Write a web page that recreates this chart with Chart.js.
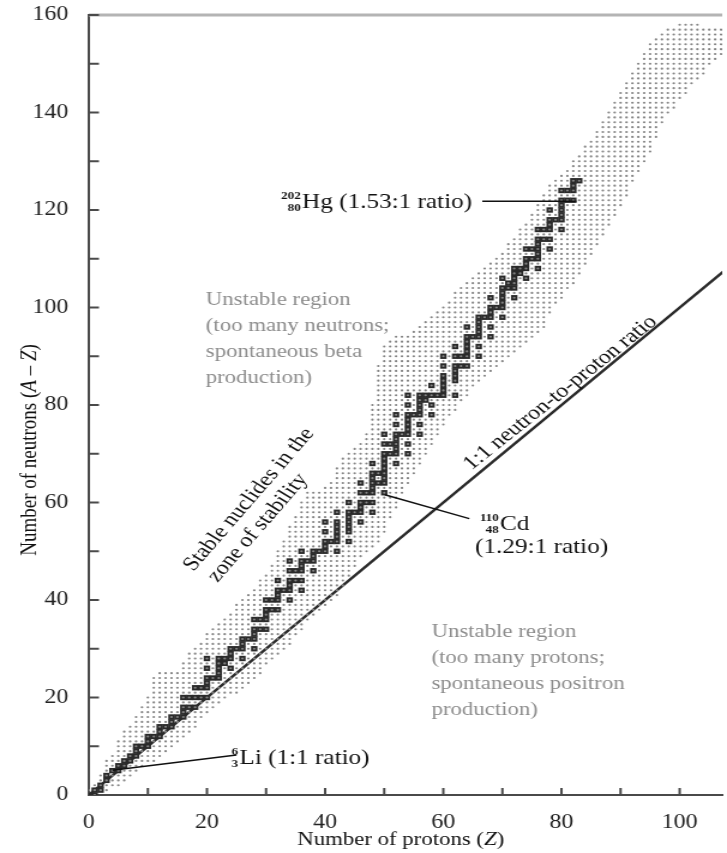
<!DOCTYPE html>
<html>
<head>
<meta charset="utf-8">
<script src="https://cdn.jsdelivr.net/npm/chart.js@4"></script>
<style>
html, body { margin: 0; padding: 0; background: #fff; }
canvas { display: block; }
</style>
</head>
<body>
<canvas id="chart" width="606" height="853" style="width:727px;height:853px"></canvas>
<script>
// stable nuclides: proton number and the neutron numbers found stable for it
var stableZ = [1,2,3,4,5,6,7,8,9,10,11,12,13,14,15,16,17,18,19,20,
  21,22,23,24,25,26,27,28,29,30,31,32,33,34,35,36,37,38,39,40,
  41,42,43,44,45,46,47,48,49,50,51,52,53,54,55,56,57,58,59,60,
  61,62,63,64,65,66,67,68,69,70,71,72,73,74,75,76,77,78,79,80,
  81,82,83];
var stableN = [
  [0,1], [1,2], [3,4], [5], [5,6], [6,7], [7,8], [8,9,10], [10], [10,11,12],
  [12], [12,13,14], [14], [14,15,16], [16], [16,17,18,20], [18,20], [18,20,22], [20,22], [20,22,23,24,26,28],
  [24], [24,25,26,27,28], [27,28], [26,28,29,30], [30], [28,30,31,32], [32], [30,32,33,34,36], [34,36], [34,36,37,38,40],
  [38,40], [38,40,41,42,44], [42], [40,42,43,44,46,48], [44,46], [42,44,46,47,48,50], [48], [46,48,49,50], [50], [50,51,52,54,56],
  [52], [50,52,53,54,55,56,58], [], [52,54,55,56,57,58,60], [58], [56,58,59,60,62,64], [60,62], [58,60,62,63,64,65,66,68], [64,66], [62,64,65,66,67,68,69,70,72,74],
  [70,72], [68,70,71,72,73,74,76,78], [74], [70,72,74,75,76,77,78,80,82], [78], [74,76,78,79,80,81,82], [81,82], [78,80,82,84], [82], [82,83,84,85,86,88,90],
  [], [82,85,86,87,88,90,92], [88,90], [88,90,91,92,93,94,96], [94], [90,92,94,95,96,97,98], [98], [94,96,98,99,100,102], [100], [98,100,101,102,103,104,106],
  [104,105], [102,104,105,106,107,108], [107,108], [106,108,109,110,112], [110,112], [108,110,111,112,113,114,116], [114,116], [112,114,116,117,118,120], [118], [116,118,119,120,121,122,124],
  [122,124], [122,124,125,126], [126]
];

// unstable (known) nuclides: lowest and highest neutron number, index = proton number 0..107
var unstableNMin = [1,0,1,1,2,2,3,4,5,6, 7,7,8,9,10,11,12,13,14,16, 17,18,19,20,21,21,22,23,24,25,
  27,28,29,30,31,33,34,36,37,38, 39,40,41,43,45,47,49,50,51,52, 54,57,59,62,64,66,68,70,72,74,
  76,78,79,81,82,84,85,86,87,88, 89,90,91,92,93,94,95,96,99,101, 102,104,105,107,109,111,113,115,117,119,
  121,123,126,128,130,132,135,138,140,141, 143,144,146,147,148,150,151,152];
var unstableNMax = [1,2,4,7,8,11,13,14,16,18, 20,24,25,25,25,25,27,29,30,31, 33,34,35,36,37,39,40,41,42,44,
  45,47,50,52,55,57,60,62,62,62, 63,64,67,69,70,71,72,74,80,88, 92,93,94,94,94,95,96,97,98,99,
  100,101,103,104,105,106,107,108,109,110, 111,113,114,116,117,119,121,123,125,126, 127,128,130,131,133,134,136,138,140,142,
  144,146,148,150,152,154,155,156,157,157, 158,158,158,158,157,157,157,157];

// the 1:1 neutron-to-proton line
var equalZ = [0, 110];
var equalN = [0, 110];

var xTickLabels = [0, 20, 40, 60, 80, 100];
var yTickLabels = [0, 20, 40, 60, 80, 100, 120, 140, 160];

var FONT = "'Liberation Serif', 'Times New Roman', serif";
var S = 1.2; // the picture is wider than its type; canvas is drawn narrow and widened by css

var unstablePts = [];
unstableNMin.forEach(function (lo, z) {
  for (var n = lo; n <= unstableNMax[z]; n++) unstablePts.push({x: z, y: n});
});
var stablePts = [];
stableN.forEach(function (ns, i) {
  ns.forEach(function (n) { stablePts.push({x: stableZ[i], y: n}); });
});
var equalPts = equalZ.map(function (z, i) { return {x: z, y: equalN[i]}; });

function textRuns(ctx, parts, x, y, align) {
  var w = 0;
  parts.forEach(function (p) { ctx.font = p[1]; w += ctx.measureText(p[0]).width; });
  var cx = align === 'center' ? x - w / 2 : x;
  ctx.textAlign = 'left';
  parts.forEach(function (p) {
    ctx.font = p[1];
    ctx.fillText(p[0], cx, y);
    cx += ctx.measureText(p[0]).width;
  });
}

function nuclide(ctx, x, y, mass, z, rest) {
  ctx.fillStyle = '#111';
  ctx.textBaseline = 'alphabetic';
  ctx.font = 'bold 11px ' + FONT;
  ctx.textAlign = 'right';
  ctx.fillText(mass, x - 1, y - 9);
  ctx.fillText(z, x - 1, y + 3);
  ctx.textAlign = 'left';
  ctx.font = '21px ' + FONT;
  ctx.fillText(rest, x, y);
}

var decor = {
  id: 'decor',
  afterDraw: function (chart) {
    var ctx = chart.ctx, a = chart.chartArea;
    var xs = chart.scales.x, ys = chart.scales.y;
    function px(z) { return xs.getPixelForValue(z); }
    function py(n) { return ys.getPixelForValue(n); }
    ctx.save();

    // grey rule along the top
    ctx.strokeStyle = '#b4b4b4';
    ctx.lineWidth = 3;
    ctx.beginPath();
    ctx.moveTo(a.left, a.top);
    ctx.lineTo(a.right, a.top);
    ctx.stroke();

    // ticks point into the plot
    ctx.strokeStyle = '#4a4a4a';
    ctx.lineWidth = 2;
    ctx.beginPath();
    xs.ticks.forEach(function (t) {
      if (t.value <= 0) return;
      ctx.moveTo(px(t.value), a.bottom);
      ctx.lineTo(px(t.value), a.bottom - 7);
    });
    ys.ticks.forEach(function (t) {
      if (t.value <= 0) return;
      ctx.moveTo(a.left, py(t.value));
      ctx.lineTo(a.left + 8.5, py(t.value));
    });
    ctx.stroke();

    // leader lines
    ctx.strokeStyle = '#111';
    ctx.lineWidth = 1.5;
    [[66.6, 121.8, 82.5, 121.8], [50.1, 61.6, 64.4, 56.7], [4.0, 5.1, 25.0, 8.2]].forEach(function (l) {
      ctx.beginPath();
      ctx.moveTo(px(l[0]), py(l[1]));
      ctx.lineTo(px(l[2]), py(l[3]));
      ctx.stroke();
    });

    nuclide(ctx, px(36.1), py(120.5), '202', '80', 'Hg (1.53:1 ratio)');
    nuclide(ctx, px(69.6), py(54.4), '110', '48', 'Cd');
    ctx.font = '21px ' + FONT;
    ctx.fillText('(1.29:1 ratio)', px(65.4), py(49.7));
    nuclide(ctx, px(25.5), py(6.4), '6', '3', 'Li (1:1 ratio)');

    // region notes
    ctx.fillStyle = '#8c8c8c';
    ctx.font = '19px ' + FONT;
    ctx.textAlign = 'left';
    ctx.textBaseline = 'middle';
    ['Unstable region', '(too many neutrons;', 'spontaneous beta', 'production)'].forEach(function (s, i) {
      ctx.fillText(s, px(19.8), py(101.6) + i * 26);
    });
    ['Unstable region', '(too many protons;', 'spontaneous positron', 'production)'].forEach(function (s, i) {
      ctx.fillText(s, px(58.0), py(33.5) + i * 26);
    });

    // slanted notes
    ctx.fillStyle = '#111';
    ctx.font = '20px ' + FONT;
    ctx.textAlign = 'center';
    [['Stable nuclides in the', 27.1, 60.6, -54], ['zone of stability', 28.6, 54.8, -54],
     ['1:1 neutron-to-proton ratio', 79.8, 82.5, -43.5]].forEach(function (r) {
      ctx.save();
      ctx.translate(px(r[1]), py(r[2]));
      ctx.rotate(r[3] * Math.PI / 180);
      ctx.fillText(r[0], 0, 0);
      ctx.restore();
    });

    // axis titles
    ctx.fillStyle = '#111';
    ctx.textBaseline = 'middle';
    textRuns(ctx, [['Number of protons (', '19px ' + FONT], ['Z', 'italic 19px ' + FONT], [')', '19px ' + FONT]],
      (a.left + a.right) / 2 - 4, 840, 'center');
    ctx.save();
    ctx.translate(30 / S, (a.top + a.bottom) / 2 + 45);
    ctx.rotate(-Math.PI / 2);
    textRuns(ctx, [['Number of neutrons (', '19px ' + FONT], ['A', 'italic 19px ' + FONT],
      [' \u2013 ', '19px ' + FONT], ['Z', 'italic 19px ' + FONT], [')', '19px ' + FONT]], 0, 0, 'center');
    ctx.restore();

    ctx.restore();
  }
};

new Chart(document.getElementById('chart'), {
  type: 'scatter',
  data: {
    datasets: [
      {
        label: 'Unstable',
        data: unstablePts,
        pointStyle: 'circle',
        pointRadius: 1.1,
        borderWidth: 0,
        backgroundColor: '#858585'
      },
      {
        label: 'Stable',
        data: stablePts,
        pointStyle: 'rect',
        pointRadius: 3.8,
        borderWidth: 0,
        backgroundColor: '#2a2a2a'
      },
      {
        type: 'line',
        label: '1:1',
        data: equalPts,
        borderColor: '#2b2b2b',
        borderWidth: 2.5,
        pointRadius: 0,
        fill: false
      }
    ]
  },
  options: {
    responsive: false,
    animation: false,
    events: [],
    layout: { padding: { top: 15, right: 0, left: 0, bottom: 0 } },
    plugins: { legend: { display: false }, tooltip: { enabled: false } },
    scales: {
      x: {
        type: 'linear',
        min: 0,
        max: 107.2,
        grid: { display: false },
        border: { display: true, color: '#4a4a4a', width: 2 },
        ticks: {
          stepSize: 10,
          includeBounds: false,
          autoSkip: false,
          maxRotation: 0,
          padding: 8,
          color: '#222',
          font: { family: FONT, size: 20 },
          callback: function (v) { return xTickLabels.indexOf(v) >= 0 ? String(v) : ''; }
        },
        afterFit: function (s) { s.height = 58; s.paddingLeft = 0; s.paddingRight = 0; }
      },
      y: {
        type: 'linear',
        min: 0,
        max: 160,
        grid: { display: false },
        border: { display: true, color: '#4a4a4a', width: 2 },
        ticks: {
          stepSize: 10,
          autoSkip: false,
          padding: 9,
          color: '#222',
          font: { family: FONT, size: 20 },
          callback: function (v) { return yTickLabels.indexOf(v) >= 0 ? String(v) : ''; }
        },
        afterFit: function (s) { s.width = 74; s.paddingTop = 0; s.paddingBottom = 0; }
      }
    }
  },
  plugins: [decor]
});
</script>
</body>
</html>
